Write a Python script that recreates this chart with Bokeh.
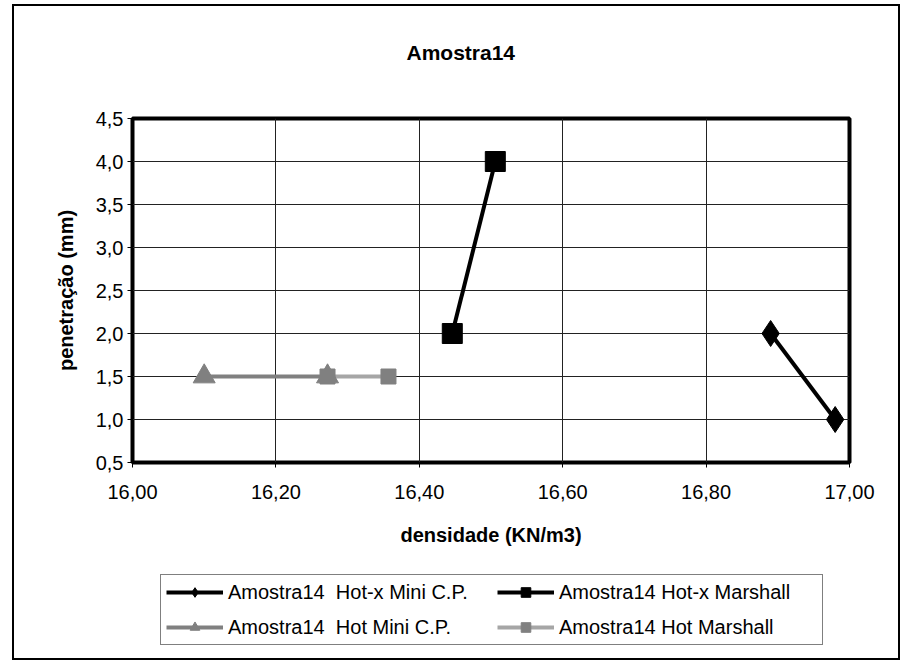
from bokeh.plotting import figure
from bokeh.layouts import column
from bokeh.models import (FixedTicker, CustomJSTickFormatter, Legend, LegendItem,
                          Range1d, Title, InlineStyleSheet)
from bokeh.embed import file_html
from bokeh.resources import INLINE

# ---- data ----
title_text = "Amostra14"
x_label = "densidade (KN/m3)"
y_label = "penetração (mm)"

hotx_mini_x = [16.89, 16.98]
hotx_mini_y = [2.0, 1.0]
hotx_marshall_x = [16.446, 16.506]
hotx_marshall_y = [2.0, 4.0]
hot_mini_x = [16.10, 16.272]
hot_mini_y = [1.5, 1.5]
hot_marshall_x = [16.272, 16.357]
hot_marshall_y = [1.5, 1.5]

x_ticks = [16.0, 16.2, 16.4, 16.6, 16.8, 17.0]
y_ticks = [0.5, 1.0, 1.5, 2.0, 2.5, 3.0, 3.5, 4.0, 4.5]

names = ["Amostra14  Hot-x Mini C.P.", "Amostra14 Hot-x Marshall",
         "Amostra14  Hot Mini C.P.", "Amostra14 Hot Marshall"]

FONT = "Liberation Sans"
WIDTH = 904

p = figure(frame_width=717, frame_height=344, output_backend="svg", toolbar_location=None,
           x_range=Range1d(16.0, 17.0), y_range=Range1d(0.5, 4.5),
           min_border_left=132, min_border_right=WIDTH - 132 - 717, min_border_top=118,
           min_border_bottom=100)
p.background_fill_color = "white"
p.border_fill_color = "white"
p.outline_line_color = "black"
p.outline_line_width = 4

# spacer nearest to the frame, real title outermost
p.add_layout(Title(text=" ", text_font_size="10px", standoff=37), "above")
p.title = Title(text=title_text, align="left", offset=274,
                text_font=FONT, text_font_size="21px", text_font_style="bold",
                text_color="black", standoff=10)

# axes
p.xaxis.ticker = FixedTicker(ticks=x_ticks)
p.yaxis.ticker = FixedTicker(ticks=y_ticks)
p.xaxis.formatter = CustomJSTickFormatter(code="return tick.toFixed(2).replace('.', ',');")
p.yaxis.formatter = CustomJSTickFormatter(code="return tick.toFixed(1).replace('.', ',');")
for ax in (p.xaxis[0], p.yaxis[0]):
    ax.axis_line_color = None
    ax.major_tick_line_color = "black"
    ax.major_tick_out = 5
    ax.major_tick_in = 0
    ax.minor_tick_line_color = None
    ax.major_label_text_font = FONT
    ax.major_label_text_font_size = "20px"
    ax.major_label_text_color = "black"
    ax.axis_label_text_font = FONT
    ax.axis_label_text_font_size = "20px"
    ax.axis_label_text_font_style = "bold"
    ax.axis_label_text_color = "black"
p.xaxis.axis_label = x_label
p.yaxis.axis_label = y_label
p.xaxis.major_label_standoff = 17
p.xaxis.axis_label_standoff = 22
p.yaxis.major_label_standoff = 4
p.yaxis.axis_label_standoff = 16

p.xgrid.ticker = FixedTicker(ticks=x_ticks)
p.ygrid.ticker = FixedTicker(ticks=y_ticks)
p.grid.grid_line_color = "#222222"
p.grid.grid_line_width = 1

STY = {
    "hotx_mini": dict(line="black", marker="diamond", msize=26, mcolor="black"),
    "hotx_marshall": dict(line="black", marker="square", msize=20, mcolor="black"),
    "hot_mini": dict(line="#808080", marker="triangle", msize=22, mcolor="#808080"),
    "hot_marshall": dict(line="#a6a6a6", marker="square", msize=15, mcolor="#808080"),
}
SERIES = [
    ("hotx_mini", hotx_mini_x, hotx_mini_y, names[0]),
    ("hotx_marshall", hotx_marshall_x, hotx_marshall_y, names[1]),
    ("hot_mini", hot_mini_x, hot_mini_y, names[2]),
    ("hot_marshall", hot_marshall_x, hot_marshall_y, names[3]),
]


def draw(fig, key, xs, ys):
    s = STY[key]
    r = fig.line(xs, ys, line_color=s["line"], line_width=4)
    m = fig.scatter(xs, ys, marker=s["marker"], size=s["msize"], color=s["mcolor"])
    return r, m


# main plot (hot marshall under hot mini)
for key, xs, ys, _ in [SERIES[0], SERIES[1], SERIES[3], SERIES[2]]:
    draw(p, key, xs, ys)

# legend strip below: same series drawn into a plot whose view excludes them
pl = figure(width=WIDTH, height=102, output_backend="svg", toolbar_location=None,
            x_range=Range1d(0, 1), y_range=Range1d(0, 1),
            x_axis_location=None, y_axis_location=None,
            min_border_left=0, min_border_right=0, min_border_top=0, min_border_bottom=0)
pl.grid.visible = False
pl.outline_line_color = None
pl.background_fill_color = "white"
pl.border_fill_color = "white"
handles = {}
for key, xs, ys, label in SERIES:
    handles[key] = (draw(pl, key, xs, ys), label)

order = ["hotx_mini", "hot_mini", "hotx_marshall", "hot_marshall"]  # column-major fill
legend = Legend(items=[LegendItem(label=handles[k][1], renderers=list(handles[k][0]))
                       for k in order],
                ncols=2, location=(28, 19))
legend.border_line_color = "black"
legend.border_line_width = 1
legend.background_fill_color = "white"
legend.background_fill_alpha = 1
legend.label_text_font = FONT
legend.label_text_font_size = "20px"
legend.label_text_color = "black"
legend.glyph_width = 57
legend.glyph_height = 24
legend.label_standoff = 5
legend.label_width = 258
legend.padding = 5
legend.spacing = 11
legend.margin = 0
pl.add_layout(legend, "center")

layout = column(p, pl, spacing=0)
layout.stylesheets = [InlineStyleSheet(css="""
:host { position: relative; }
:host::after { content: ""; position: absolute; left: 12px; top: 4px;
  width: 884px; height: 652px; border: 2px solid black;
  pointer-events: none; z-index: 10; }
""")]

open("out.html", "w").write(file_html(layout, INLINE))
